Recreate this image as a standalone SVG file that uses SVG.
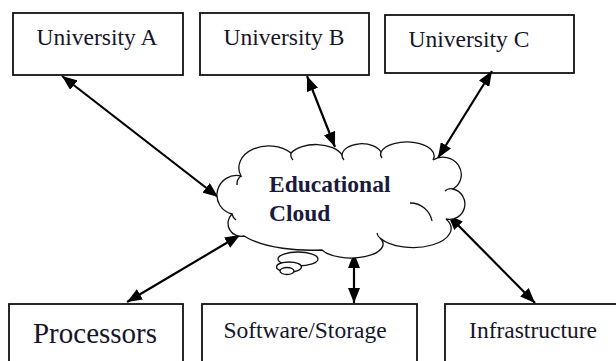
<svg xmlns="http://www.w3.org/2000/svg" width="616" height="361" viewBox="0 0 616 361">
<style>
.box{fill:#fff;stroke:#111;stroke-width:1.8}
.lbl{font-size:23.5px;fill:#15152a;text-anchor:middle}
.big{font-size:29px}
.cl{font-size:23.5px;font-weight:bold;fill:#1a1a3c}
.arr{stroke:#000;stroke-width:2.2;fill:none;marker-start:url(#ah);marker-end:url(#ah)}
.cloud{fill:#fff;stroke:#111;stroke-width:1.3}
.hook{fill:none;stroke:#111;stroke-width:1.3}
</style>
<defs>
<marker id="ah" markerUnits="userSpaceOnUse" markerWidth="15" markerHeight="12" refX="15" refY="6" orient="auto-start-reverse">
<path d="M0,0 L15,6 L0,12 z" fill="#000"/>
</marker>
</defs>
<rect width="616" height="361" fill="#fff"/>
<g font-family="Liberation Serif, Times New Roman, serif">
<g id="universityA"><rect class="box" x="13" y="13" width="170" height="62"/><text class="lbl" x="97" y="45">University A</text></g>
<g id="universityB"><rect class="box" x="200" y="13" width="169" height="62"/><text class="lbl" x="284" y="45">University B</text></g>
<g id="universityC"><rect class="box" x="385" y="15" width="189" height="58"/><text class="lbl" x="469" y="47">University C</text></g>
<g id="processors"><rect class="box" x="9" y="304" width="174" height="70"/><text class="lbl big" x="95" y="343">Processors</text></g>
<g id="softwareStorage"><rect class="box" x="202" y="304" width="215" height="70"/><text class="lbl" x="305" y="338">Software/Storage</text></g>
<g id="infrastructure"><rect class="box" x="445" y="304" width="190" height="70"/><text class="lbl" x="533" y="338">Infrastructure</text></g>
<g id="connectors">
<line class="arr" x1="62" y1="76" x2="218" y2="197"/>
<line class="arr" x1="307" y1="76" x2="335" y2="147"/>
<line class="arr" x1="492" y1="71" x2="438" y2="158"/>
<line class="arr" x1="127" y1="302" x2="240" y2="235"/>
<line class="arr" x1="354" y1="253" x2="354" y2="303"/>
<line class="arr" x1="535" y1="303" x2="448" y2="215"/>
</g>
<g id="educationalCloud">
<ellipse class="cloud" cx="298" cy="259" rx="20" ry="7"/>
<ellipse class="cloud" cx="289" cy="267" rx="12.5" ry="5"/>
<ellipse class="cloud" cx="287" cy="271" rx="7" ry="3.5"/>
<path class="cloud" d="M232,214 A14,14 0 0 1 241,176 A30,22 0 0 1 291,153 A28,16 0 0 1 342,155 A20,12 0 0 1 381,152 A27,14 0 0 1 433,160 A18,17 0 0 1 453,189 A15,15 0 0 1 446,219 A36,18 0 0 1 380,238 A32,14 0 0 1 322,250 C300,251 265,249 244,236 A13,13 0 0 1 232,214 Z"/>
<path class="hook" d="M232,214 A10,10 0 0 0 236,220"/>
<path class="hook" d="M241,176 A10,10 0 0 0 237,185"/>
<path class="hook" d="M291,153 A8,8 0 0 0 293,160"/>
<path class="hook" d="M342,155 A6,6 0 0 0 344,160"/>
<path class="hook" d="M381,152 A6,6 0 0 0 382,158"/>
<path class="hook" d="M453,189 A8,8 0 0 0 445,191"/>
<path class="hook" d="M410,203 A22,22 0 0 1 432,221"/>
<path class="hook" d="M380,238 A8,8 0 0 1 377,233"/>
<text class="cl" x="269" y="192">Educational</text>
<text class="cl" x="269" y="221">Cloud</text>
</g>
</g>
</svg>
